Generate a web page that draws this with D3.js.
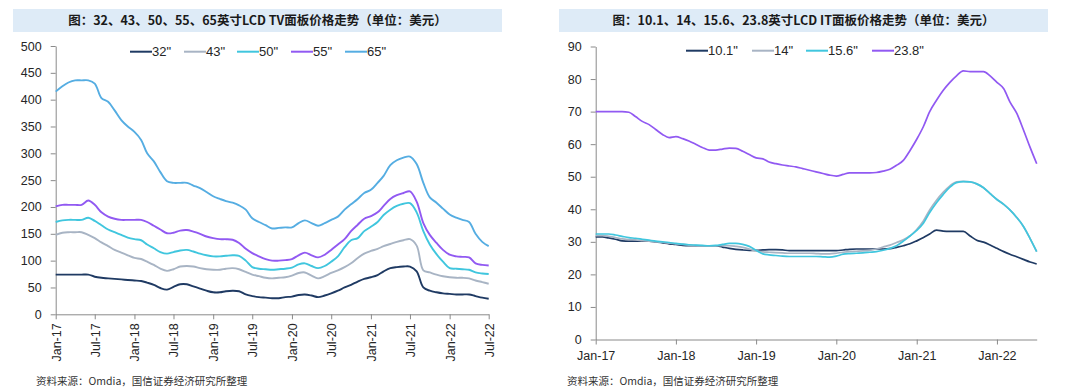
<!DOCTYPE html>
<html><head><meta charset="utf-8">
<script src="https://cdn.jsdelivr.net/npm/d3@7"></script>
<style>
html,body{margin:0;padding:0;background:#fff;}
svg{display:block;}
text{font-family:"Liberation Sans",Arial,sans-serif;}
</style></head>
<body>
<svg id="c" width="1080" height="390"></svg>
<script>
// ---------- DATA ----------
const startMonth = "2017-01";   // first category (monthly, Jan-17 .. Jul-22)
const tvSeries = ['32"', '43"', '50"', '55"', '65"'];
const tv32 = [74,74,74,74,74,74,70,68,67,66,65,64,63,62,59,55,49,46,51,56,56,52,48,44,41,41,43,44,43,37,34,32,31,30,30,32,33,36,37,35,32,35,39,44,50,55,61,66,69,73,80,86,88,89,89,80,50,44,41,39,38,37,37,37,34,31,29];
const tv43 = [148,152,153,153,153,148,142,134,127,120,115,110,105,103,98,92,85,81,84,89,90,89,86,84,83,83,85,86,84,79,74,71,68,67,68,69,72,77,78,72,67,71,77,82,88,95,105,113,118,122,127,131,135,138,140,128,82,78,74,71,69,68,68,67,63,60,57];
const tv50 = [172,175,176,176,176,180,174,166,158,153,148,143,140,138,130,123,116,113,116,119,120,117,113,110,108,108,109,110,109,100,88,85,84,83,84,85,87,93,95,90,86,90,98,108,125,138,142,155,163,172,185,195,202,206,207,190,155,130,112,98,86,85,84,83,78,76,75];
const tv55 = [201,204,204,204,204,212,204,190,182,178,176,176,176,176,172,165,158,151,152,156,157,154,150,145,142,140,140,139,133,122,114,108,103,100,100,101,103,110,115,110,106,111,120,130,140,155,167,178,183,190,202,215,222,226,229,210,170,148,133,120,111,108,107,106,95,92,91];
const tv65 = [415,425,432,436,436,436,430,403,396,380,362,350,340,325,300,285,265,248,245,245,245,240,235,228,220,215,211,208,203,195,179,172,166,160,161,162,162,170,175,170,165,170,176,182,195,205,215,226,232,245,258,278,287,292,294,280,245,218,208,197,186,180,176,172,150,135,127];
const tvTicks = [0,50,100,150,200,250,300,350,400,450,500];

const itSeries = ['10.1"', '14"', '15.6"', '23.8"'];
const it101 = [31.5,31.5,31.2,30.8,30.3,30.2,30.2,30.2,30.2,30.0,29.7,29.4,29.2,28.9,28.8,28.8,28.8,28.8,28.8,28.4,28.0,27.7,27.5,27.4,27.4,27.5,27.6,27.6,27.5,27.3,27.3,27.3,27.3,27.3,27.3,27.3,27.3,27.5,27.7,27.8,27.8,27.8,27.8,27.8,27.9,28.3,28.8,29.4,30.3,31.3,32.4,33.6,33.3,33.2,33.2,33.2,31.8,30.5,29.9,29.0,28.0,27.0,26.2,25.4,24.6,23.8,23.2];
const it14 = [31.9,31.9,31.7,31.3,30.9,30.7,30.6,30.4,30.2,30.0,29.8,29.6,29.4,29.2,29.0,28.9,28.8,28.8,28.8,28.8,28.8,28.6,28.3,27.8,27.2,26.9,26.8,26.7,26.6,26.5,26.5,26.5,26.5,26.4,26.3,26.3,26.5,26.8,27.0,27.1,27.2,27.4,27.8,28.4,29.0,29.8,30.6,31.8,33.8,36.5,39.8,42.8,45.2,47.2,48.4,48.6,48.4,47.8,46.6,44.8,43.0,41.5,39.8,37.5,34.8,31.0,27.0];
const it156 = [32.4,32.4,32.4,32.1,31.7,31.3,31.1,30.8,30.5,30.2,30.0,29.8,29.5,29.3,29.1,29.0,28.9,28.8,28.9,29.2,29.5,29.5,29.2,28.6,27.4,26.3,26.0,25.8,25.6,25.5,25.5,25.5,25.5,25.5,25.4,25.3,25.6,26.2,26.4,26.5,26.6,26.8,27.0,27.4,28.0,28.8,30.2,31.8,33.5,35.8,39.0,42.0,44.5,46.8,48.2,48.5,48.4,47.8,46.6,44.8,43.0,41.5,39.8,37.5,34.8,31.0,27.0];
const it238 = [70,70,70,70,70,69.8,68.5,67,66,64.5,63,62,62.3,61.7,61,60,59,58.2,58.2,58.5,58.8,58.7,57.8,56.8,55.8,55.5,54.5,54,53.6,53.3,53,52.5,52,51.5,51,50.5,50.2,50.7,51.2,51.2,51.2,51.2,51.3,51.7,52.3,53.5,55,58,61.5,65.5,70,73.5,76.5,79,81,82.5,82.3,82.3,82.3,81,79,77,73,69.5,64.5,59,54];
const itTicks = [0,10,20,30,40,50,60,70,80,90];

const titleTV = "图：32、43、50、55、65英寸LCD TV面板价格走势（单位：美元）";
const titleIT = "图：10.1、14、15.6、23.8英寸LCD IT面板价格走势（单位：美元）";
const sourceText = "资料来源：Omdia，国信证券经济研究所整理";

const colors = ["#1f3a63", "#a8b4c4", "#40c6de", "#9159f2", "#55ade2"];
const itColors = ["#1f3a63", "#a8b4c4", "#40c6de", "#9159f2"];

// ---------- DRAW ----------
const svg = d3.select("#c");
const parse = d3.utcParse("%Y-%m");
const t0 = parse(startMonth);
const dateAt = i => d3.utcMonth.offset(t0, i);
const fmt = d3.utcFormat("%b-%y");
const axisColor = "#8a8a8a";

function styleAxis(g){
  g.selectAll("path.domain").attr("stroke", axisColor).attr("stroke-width", 1);
  g.selectAll(".tick line").attr("stroke", axisColor);
  g.selectAll(".tick text").attr("fill", "#262626").style("font-size","12.5px").style("font-family","'Liberation Sans',Arial,sans-serif");
}

function titleBand(x0, x1, txt){
  svg.append("rect").attr("x", x0).attr("y", 9).attr("width", x1-x0).attr("height", 23).attr("fill", "#deebf7");
  svg.append("text").attr("x", (x0+x1)/2).attr("y", 25).attr("text-anchor","middle")
    .style("font-family","'Noto Sans CJK SC',sans-serif").style("font-weight","bold").style("font-size","12.5px")
    .attr("fill","#1a1a1a").text(txt);
}

function legend(items, cols, xs, y){
  items.forEach((name, i) => {
    svg.append("line").attr("x1", xs[i]).attr("x2", xs[i]+22).attr("y1", y).attr("y2", y)
      .attr("stroke", cols[i]).attr("stroke-width", 2);
    svg.append("text").attr("x", xs[i]+22).attr("y", y+4.5).attr("fill","#262626")
      .style("font-size","13px").text(name);
  });
}

// ----- Left chart -----
titleBand(13, 502, titleTV);
const xL = d3.scaleUtc().domain([dateAt(0), dateAt(66)]).range([55.7, 488.7]);
const yL = d3.scaleLinear().domain([0, 500]).range([314.3, 46]);
const gxL = svg.append("g").attr("transform","translate(0,314.3)")
  .call(d3.axisBottom(xL).tickValues(d3.range(0, 67, 6).map(dateAt)).tickFormat(fmt).tickSize(5).tickSizeOuter(0));
gxL.selectAll(".tick text").attr("transform","rotate(-90)").attr("text-anchor","end")
  .attr("x", -9).attr("y", 0).attr("dy","0.35em");
styleAxis(gxL);
const gyL = svg.append("g").attr("transform","translate(55.7,0)")
  .call(d3.axisLeft(yL).tickValues(tvTicks).tickSize(5).tickPadding(9).tickSizeOuter(0));
styleAxis(gyL);

const tvData = [tv32, tv43, tv50, tv55, tv65];
const lineL = d3.line().x((d,i)=>xL(dateAt(i))).y(d=>yL(d)).curve(d3.curveCatmullRom.alpha(0.5));
tvData.forEach((s, k) => {
  svg.append("path").attr("d", lineL(s)).attr("fill","none").attr("stroke", colors[k]).attr("stroke-width", 1.9);
});
legend(tvSeries, colors, [130, 184, 237, 291, 345], 51.7);
svg.append("text").attr("x", 36).attr("y", 385).attr("fill","#333")
  .style("font-family","'Noto Sans CJK SC',sans-serif").style("font-size","10.5px").text(sourceText);

// ----- Right chart -----
titleBand(559, 1048, titleIT);
const xR = d3.scaleUtc().domain([dateAt(0), dateAt(66)]).range([595.7, 1036.7]);
const yR = d3.scaleLinear().domain([0, 90]).range([339.5, 46.5]);
const gxR = svg.append("g").attr("transform","translate(0,339.5)")
  .call(d3.axisBottom(xR).tickValues(d3.range(0, 61, 12).map(dateAt)).tickFormat(fmt).tickSize(5).tickPadding(7).tickSizeOuter(0));
styleAxis(gxR);
const gyR = svg.append("g").attr("transform","translate(595.7,0)")
  .call(d3.axisLeft(yR).tickValues(itTicks).tickSize(5).tickPadding(9).tickSizeOuter(0));
styleAxis(gyR);

const itData = [it101, it14, it156, it238];
const lineR = d3.line().x((d,i)=>xR(dateAt(i))).y(d=>yR(d)).curve(d3.curveMonotoneX);
itData.forEach((s, k) => {
  svg.append("path").attr("d", lineR(s)).attr("fill","none").attr("stroke", itColors[k]).attr("stroke-width", 1.7);
});
legend(itSeries, itColors, [686, 752, 806, 872], 50.7);
svg.append("text").attr("x", 567).attr("y", 385).attr("fill","#333")
  .style("font-family","'Noto Sans CJK SC',sans-serif").style("font-size","10.5px").text(sourceText);
</script>
</body></html>
